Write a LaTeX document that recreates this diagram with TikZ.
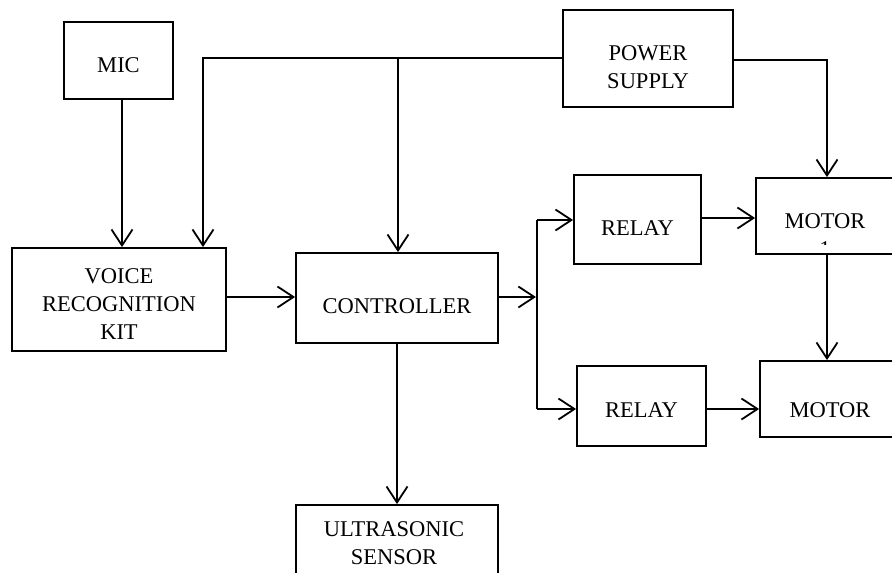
\documentclass[tikz,border=0pt]{standalone}
\usepackage{fontspec}
\setmainfont{Liberation Serif}
\usetikzlibrary{arrows.meta}
\begin{document}
\begin{tikzpicture}[x=1pt,y=-1pt,
  box/.style={draw, line width=1.8pt, inner sep=0pt},
  ln/.style={line width=1.8pt},
  arr/.style={ln, -{Straight Barb[length=16pt,width=21pt,line width=1.8pt]}},
  txt/.style={font=\fontsize{22.5}{28}\selectfont, align=center, inner sep=0pt}]
\useasboundingbox (0,0) rectangle (892,573);
\clip (0,0) rectangle (892,573);
% boxes
\node[box, minimum width=109pt, minimum height=77pt] (mic) at (118.5,60.5) {};
\node[box, minimum width=170pt, minimum height=97pt] (ps) at (648,58.5) {};
\node[box, minimum width=214pt, minimum height=103pt] (vrk) at (119,299.5) {};
\node[box, minimum width=202pt, minimum height=90pt] (ctrl) at (397,298) {};
\node[box, minimum width=127pt, minimum height=89pt] (r1) at (637.5,219.5) {};
\node[box, minimum width=129pt, minimum height=80pt] (r2) at (641.5,406) {};
\node[box, minimum width=142pt, minimum height=76pt] (m1) at (827,216) {};
\node[box, minimum width=140pt, minimum height=76pt] (m2) at (830,399) {};
\node[box, minimum width=202pt, minimum height=80pt] (us) at (397,545) {};
% texts
\node[txt] (micT) at (118.5,65.5) {MIC};
\node[txt] (psT) at (648,67.5) {POWER\\SUPPLY};
\node[txt] (vrkT) at (119,304) {VOICE\\RECOGNITION\\KIT};
\node[txt] (ctrlT) at (397,306) {CONTROLLER};
\node[txt] (r1T) at (637.5,228.5) {RELAY};
\node[txt] (r2T) at (641.5,410) {RELAY};
\begin{scope}
  \clip (756,178) rectangle (898,244.5);
  \node[txt] (m1T) at (825,235) {MOTOR\\1};
\end{scope}
\node[txt] (m2T) at (830,410) {MOTOR};
\node[txt] (usT) at (394,543) {ULTRASONIC\\SENSOR};
% connectors
\coordinate (busL) at (203,58);
\coordinate (busM) at (398,58);
\coordinate (jt) at (537,220);
\coordinate (jb) at (537,409);
\coordinate (split) at (536,297);
\draw[arr] ([xshift=3.5pt]mic.south) -- ([xshift=3.5pt]mic.south |- vrk.north);
\draw[arr] (ps.west |- busL) -- (busL) -- (busL |- vrk.north);
\draw[arr] (busM) -- (busM |- ctrl.north);
\draw[arr] (ps.east |- 0,60) -- (m1.north |- 0,60) -- (m1.north);
\draw[arr] (vrk.east |- split) -- (ctrl.west |- split);
\draw[arr] (ctrl.east |- split) -- (split);
\draw[ln] (jt) -- (jb);
\draw[arr] (jt) -- (r1.west |- jt);
\draw[arr] (jb) -- (r2.west |- jb);
\draw[arr] (r1.east |- 0,218) -- (m1.west |- 0,218);
\draw[arr] (r2.east |- jb) -- (m2.west |- jb);
\draw[arr] (m1.south) -- (m1.south |- m2.north);
\draw[arr] (ctrl.south) -- (ctrl.south |- us.north);
\end{tikzpicture}
\end{document}
